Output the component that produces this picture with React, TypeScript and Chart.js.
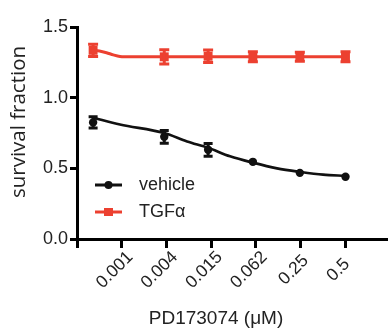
import React, { useEffect, useRef } from 'react';
import { Chart, registerables } from 'chart.js';

Chart.register(...registerables);

// ---- data ----
const tickLabels = ['', '0.001', '0.004', '0.015', '0.062', '0.25', '0.5'];
const yTicks = [0, 0.5, 1.0, 1.5];
const xTitle = 'PD173074 (μM)';
const yTitle = 'survival fraction';

// measured point positions in tick units (tick i at index i)
const pointX = [0.36, 1.95, 2.93, 3.93, 4.98, 6.0];

const vehicleMean = [0.825, 0.723, 0.631, 0.546, 0.468, 0.44];
const vehicleErr = [0.04, 0.045, 0.045, 0, 0, 0];

const tgfMean = [1.335, 1.289, 1.293, 1.289, 1.289, 1.289];
const tgfErr = [0.043, 0.05, 0.045, 0.035, 0.032, 0.035];

// fitted curves
const vehicleFitX = [0.36, 0.96, 1.95, 2.46, 2.93, 3.42, 3.93, 4.47, 4.98, 5.5, 6.0];
const vehicleFitY = [0.858, 0.81, 0.75, 0.69, 0.645, 0.585, 0.54, 0.5, 0.475, 0.455, 0.447];

const tgfFitX = [0.36, 0.5, 0.66, 0.81, 0.96, 1.2, 2.0, 3.0, 4.0, 5.0, 6.0];
const tgfFitY = [1.335, 1.33, 1.318, 1.303, 1.292, 1.289, 1.289, 1.289, 1.289, 1.289, 1.289];

const BLACK = '#111111';
const RED = '#EC4030';
const TEXT = '#222222';
const SANS = '"Liberation Sans", Arial, sans-serif';

const errorBarPlugin = {
  id: 'errorBars',
  afterDatasetsDraw(chart: any) {
    const { ctx, scales } = chart;
    const x = scales.x;
    const y = scales.y;
    chart.data.datasets.forEach((ds: any) => {
      if (!ds.errors) return;
      ctx.save();
      ctx.strokeStyle = ds.borderColor;
      ctx.lineWidth = 3;
      const cap = ds.capHalf || 4.5;
      ds.data.forEach((p: any, i: number) => {
        const e = ds.errors[i];
        if (!e) return;
        const px = x.getPixelForValue(p.x);
        const yTop = y.getPixelForValue(p.y + e);
        const yBot = y.getPixelForValue(p.y - e);
        ctx.beginPath();
        ctx.moveTo(px, yTop);
        ctx.lineTo(px, yBot);
        ctx.moveTo(px - cap, yTop);
        ctx.lineTo(px + cap, yTop);
        ctx.moveTo(px - cap, yBot);
        ctx.lineTo(px + cap, yBot);
        ctx.stroke();
      });
      ctx.restore();
    });
  },
};

const insideLegendPlugin = {
  id: 'insideLegend',
  afterDraw(chart: any) {
    const { ctx, chartArea } = chart;
    const items = chart.data.datasets.filter((d: any) => d.inLegend);
    ctx.save();
    items.forEach((ds: any, i: number) => {
      const yc = chartArea.top + 158 + i * 27;
      const x0 = chartArea.left + 18;
      const x1 = chartArea.left + 45;
      ctx.strokeStyle = ds.borderColor;
      ctx.fillStyle = ds.borderColor;
      ctx.lineWidth = 3;
      ctx.beginPath();
      ctx.moveTo(x0, yc);
      ctx.lineTo(x1, yc);
      ctx.stroke();
      const xc = (x0 + x1) / 2;
      if (ds.pointStyle === 'rect') {
        ctx.fillRect(xc - 4.5, yc - 4, 9, 8);
      } else {
        ctx.beginPath();
        ctx.arc(xc, yc, 4, 0, Math.PI * 2);
        ctx.fill();
      }
      ctx.fillStyle = TEXT;
      ctx.font = `18px ${SANS}`;
      ctx.textBaseline = 'middle';
      ctx.textAlign = 'left';
      ctx.fillText(ds.label, chartArea.left + 62, yc);
    });
    ctx.restore();
  },
};

// rotated x tick labels, centred just below-left of each tick
const xTickLabelPlugin = {
  id: 'xTickLabels',
  afterDraw(chart: any) {
    const { ctx, chartArea, scales } = chart;
    ctx.save();
    ctx.fillStyle = TEXT;
    ctx.font = `17.5px ${SANS}`;
    ctx.textAlign = 'center';
    ctx.textBaseline = 'middle';
    tickLabels.forEach((lab, i) => {
      if (!lab) return;
      const px = scales.x.getPixelForValue(i);
      ctx.save();
      ctx.translate(px - 7, chartArea.bottom + 31);
      ctx.rotate(-Math.PI / 4);
      ctx.fillText(lab, 0, 0);
      ctx.restore();
    });
    ctx.restore();
  },
};

const axisTitlesPlugin = {
  id: 'axisTitles',
  afterDraw(chart: any) {
    const { ctx, chartArea } = chart;
    ctx.save();
    ctx.fillStyle = TEXT;
    ctx.textAlign = 'center';
    ctx.textBaseline = 'middle';
    // x title
    ctx.font = `19px ${SANS}`;
    ctx.fillText(xTitle, chartArea.left + 139, chartArea.bottom + 80);
    // y title
    ctx.translate(19, chartArea.top + 95);
    ctx.rotate(-Math.PI / 2);
    ctx.font = '20.5px "Open Sans", sans-serif';
    ctx.fillText(yTitle, 0, 0);
    ctx.restore();
  },
};

export default function App() {
  const ref = useRef<HTMLCanvasElement | null>(null);

  useEffect(() => {
    if (!ref.current) return;
    const toPts = (xs: number[], ys: number[]) => xs.map((x, i) => ({ x, y: ys[i] }));
    const chart = new Chart(ref.current, {
      type: 'line',
      data: {
        datasets: [
          {
            label: 'vehicle fit',
            data: toPts(vehicleFitX, vehicleFitY),
            borderColor: BLACK,
            borderWidth: 2.7,
            pointRadius: 0,
            cubicInterpolationMode: 'monotone',
            fill: false,
          } as any,
          {
            label: 'TGFα fit',
            data: toPts(tgfFitX, tgfFitY),
            borderColor: RED,
            borderWidth: 3,
            pointRadius: 0,
            cubicInterpolationMode: 'monotone',
            fill: false,
          } as any,
          {
            label: 'vehicle',
            data: toPts(pointX, vehicleMean),
            showLine: false,
            borderColor: BLACK,
            backgroundColor: BLACK,
            pointBackgroundColor: BLACK,
            pointBorderWidth: 0,
            pointStyle: 'circle',
            pointRadius: 4.2,
            errors: vehicleErr,
            capHalf: 4.5,
            inLegend: true,
          } as any,
          {
            label: 'TGFα',
            data: toPts(pointX, tgfMean),
            showLine: false,
            borderColor: RED,
            backgroundColor: RED,
            pointBackgroundColor: RED,
            pointBorderWidth: 0,
            pointStyle: 'rect',
            pointRadius: 6.3,
            errors: tgfErr,
            capHalf: 5,
            inLegend: true,
          } as any,
        ],
      },
      options: {
        animation: false,
        responsive: false,
        devicePixelRatio: 1,
        layout: { autoPadding: false, padding: { top: 27, right: 0, left: 0, bottom: 0 } },
        plugins: {
          legend: { display: false },
          tooltip: { enabled: false },
        },
        scales: {
          x: {
            type: 'linear',
            min: 0,
            max: 6.95,
            afterBuildTicks: (scale: any) => {
              scale.ticks = tickLabels.map((_, i) => ({ value: i }));
            },
            afterFit: (scale: any) => {
              scale.height = 94;
              scale.paddingLeft = 0;
              scale.paddingRight = 0;
            },
            ticks: { display: false, autoSkip: false },
            grid: {
              display: true,
              drawOnChartArea: false,
              drawTicks: true,
              tickLength: 9,
              lineWidth: 3,
              color: '#000',
            },
            border: { display: true, width: 3, color: '#000' },
          },
          y: {
            type: 'linear',
            min: 0,
            max: 1.5,
            afterBuildTicks: (scale: any) => {
              scale.ticks = yTicks.map((v) => ({ value: v }));
            },
            afterFit: (scale: any) => {
              scale.width = 77;
            },
            ticks: {
              padding: 2,
              color: TEXT,
              font: { family: SANS, size: 18 },
              callback: (v: any) => Number(v).toFixed(1),
            },
            grid: {
              display: true,
              drawOnChartArea: false,
              drawTicks: true,
              tickLength: 7,
              lineWidth: 3,
              color: '#000',
            },
            border: { display: true, width: 3, color: '#000' },
          },
        },
      },
      plugins: [errorBarPlugin, insideLegendPlugin, xTickLabelPlugin, axisTitlesPlugin],
    } as any);
    return () => chart.destroy();
  }, []);

  return (
    <div style={{ position: 'absolute', left: 0, top: 0, width: 388, height: 333, background: '#fff' }}>
      <canvas ref={ref} width={388} height={333} />
    </div>
  );
}
